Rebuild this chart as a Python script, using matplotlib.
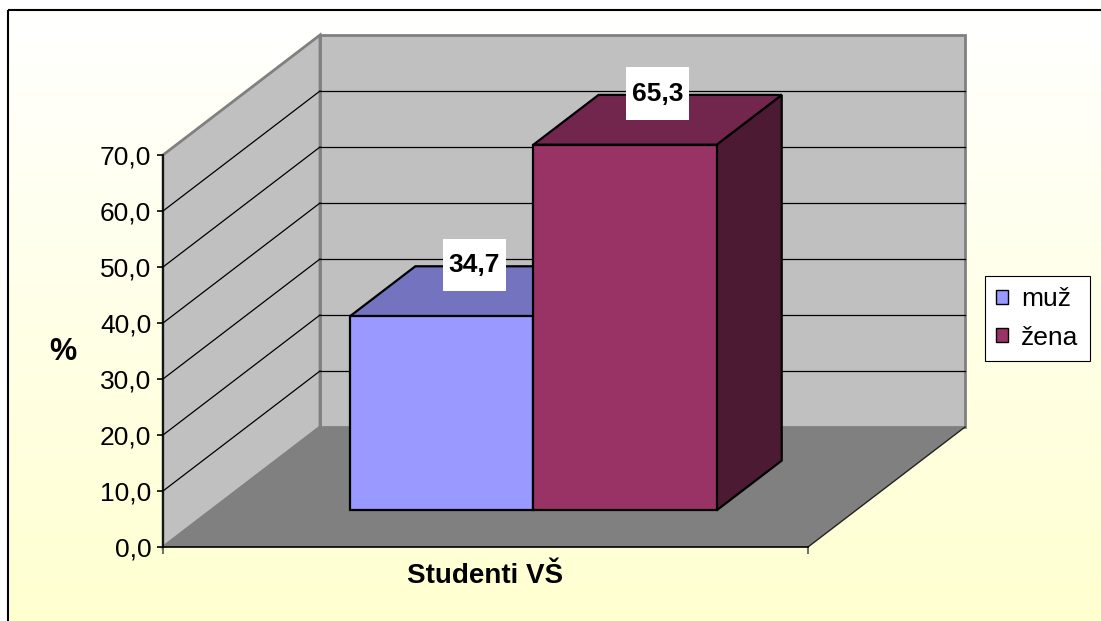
import matplotlib
matplotlib.use("Agg")
import matplotlib.pyplot as plt
import numpy as np
from matplotlib.colors import LinearSegmentedColormap
from matplotlib.patches import Polygon, Patch, Rectangle
from matplotlib.path import Path

plt.rcParams["font.family"] = ["Liberation Sans", "DejaVu Sans"]

# data
SERIES = ["muž", "žena"]
VALUES = [34.7, 65.3]
CATEGORY = "Studenti VŠ"
Y_TICKS = [0, 10, 20, 30, 40, 50, 60, 70]
Y_LABEL = "%"

# styles
FRONT = ["#9999FF", "#993366"]
TOP = ["#7373BF", "#73264D"]
SIDE = ["#5C5C99", "#4D1A33"]
WALL = "#C0C0C0"
FLOOR = "#808080"
EDGE = "#808080"

W, H = 1101, 621
# front plane of the plot area (pixels)
PL, PR, PB, PT = 163, 808, 547, 155
YMAX = Y_TICKS[-1]
DX = 157 / (PR - PL)               # depth shift in category units
DY = 120 / ((PB - PT) / YMAX)      # depth shift in value units
D0, D1 = 0.305, 0.72               # depth span of the bars
BAR_W = 0.284
LABEL_FS = 19
HPAD, VPAD = 0.21, 0.54            # label box padding (fraction of font size)


def P(x, v, d):
    """project (x, value, depth) onto the front plane"""
    return (x + d * DX, v + d * DY)


def fmt(v):
    return f"{v:.1f}".replace(".", ",")


def label_box(x0, y0, width, height, mutation_size):
    px, py = HPAD * mutation_size, VPAD * mutation_size
    x0, y0 = x0 - px, y0 - py
    x1, y1 = x0 + width + 2 * px, y0 + height + 2 * py
    return Path([(x0, y0), (x1, y0), (x1, y1), (x0, y1), (x0, y0)], closed=True)


fig = plt.figure(figsize=(W / 100, H / 100), dpi=100, facecolor="white")

bg = fig.add_axes([0, 0, 1, 1])
grad = np.linspace(0, 1, 256)[:, None]
cmap = LinearSegmentedColormap.from_list("bg", ["#FFFFFF", "#FFFFD0"])
bg.imshow(grad, cmap=cmap, extent=(8, W + 5, H + 5, 10), aspect="auto")
bg.add_patch(Rectangle((8, 10), W, H, fill=False, lw=1.5, ec="black"))
bg.set_xlim(0, W)
bg.set_ylim(H, 0)
bg.axis("off")

ax = fig.add_axes([PL / W, 1 - PB / H, (PR - PL) / W, (PB - PT) / H])
ax.set_xlim(0, 1)
ax.set_ylim(0, YMAX)
ax.patch.set_visible(False)
for s in ["top", "right"]:
    ax.spines[s].set_visible(False)
for s in ["left", "bottom"]:
    ax.spines[s].set_linewidth(1.2)
    ax.spines[s].set_zorder(6)

# walls and floor
ax.add_patch(Polygon([P(0, 0, 1), P(1, 0, 1), P(1, YMAX, 1), P(0, YMAX, 1)],
                     fc=WALL, ec=EDGE, lw=2, clip_on=False, zorder=1))
ax.add_patch(Polygon([P(0, 0, 0), P(0, 0, 1), P(0, YMAX, 1), P(0, YMAX, 0)],
                     fc=WALL, ec=EDGE, lw=2, clip_on=False, zorder=1))
ax.add_patch(Polygon([P(0, 0, 0), P(1, 0, 0), P(1, 0, 1), P(0, 0, 1)],
                     fc=FLOOR, ec="none", clip_on=False, zorder=2))
x0, y0 = P(1, 0, 0)
x1, y1 = P(1, 0, 1)
ax.plot([x0, x1], [y0, y1], color="#222222", lw=1, clip_on=False, zorder=3)

for t in Y_TICKS[1:-1]:
    a, b = P(0, t, 1), P(1, t, 1)
    ax.plot([a[0], b[0]], [a[1], b[1]], color="black", lw=0.9, clip_on=False, zorder=3)
    a, b = P(0, t, 0), P(0, t, 1)
    ax.plot([a[0], b[0]], [a[1], b[1]], color="black", lw=0.9, clip_on=False, zorder=3)

# bars
start = 0.5 - len(VALUES) * BAR_W / 2
for i, v in enumerate(VALUES):
    xa = start + i * BAR_W
    xb = xa + BAR_W
    side = [P(xb, 0, D0), P(xb, 0, D1), P(xb, v, D1), P(xb, v, D0)]
    top = [P(xa, v, D0), P(xb, v, D0), P(xb, v, D1), P(xa, v, D1)]
    front = [P(xa, 0, D0), P(xb, 0, D0), P(xb, v, D0), P(xa, v, D0)]
    for poly, col in [(side, SIDE[i]), (top, TOP[i]), (front, FRONT[i])]:
        ax.add_patch(Polygon(poly, fc=col, ec="black", lw=1.6, joinstyle="miter",
                             clip_on=False, zorder=4 + i))
    ax.annotate(fmt(v), xy=P((xa + xb) / 2, v, (D0 + D1) / 2), xytext=(0, VPAD * LABEL_FS),
                textcoords="offset points", ha="center", va="bottom",
                fontsize=LABEL_FS, fontweight="bold", annotation_clip=False, zorder=10,
                bbox=dict(boxstyle=label_box, fc="white", ec="none"))

# axes
ax.set_yticks(Y_TICKS)
ax.set_yticklabels([fmt(t) for t in Y_TICKS], fontsize=19)
ax.set_xticks([0, 1])
ax.set_xticklabels(["", ""])
ax.tick_params(axis="y", direction="out", length=4, width=1.2, pad=4.5)
ax.tick_params(axis="x", direction="out", length=5, width=1.2, color="#555555")
ax.set_ylabel(Y_LABEL, rotation=0, fontsize=22, fontweight="bold", ha="center", va="center")
ax.yaxis.set_label_coords(-0.155, 0.497)
ax.set_xlabel(CATEGORY, fontsize=20, fontweight="bold", va="center")
ax.xaxis.set_label_coords(0.5, -0.074)

handles = [Patch(fc=FRONT[i], ec="black", lw=1, label=s) for i, s in enumerate(SERIES)]
leg = fig.legend(handles=handles, loc="center left", bbox_to_anchor=(985 / W, 1 - 318.5 / H),
                 fontsize=19, frameon=True, fancybox=False, edgecolor="black", framealpha=1,
                 handlelength=0.45, handleheight=0.45, handletextpad=0.5,
                 labelspacing=0.55, borderpad=0.42, borderaxespad=0)
leg.get_frame().set_linewidth(0.8)

fig.savefig("out.png", dpi=100)
